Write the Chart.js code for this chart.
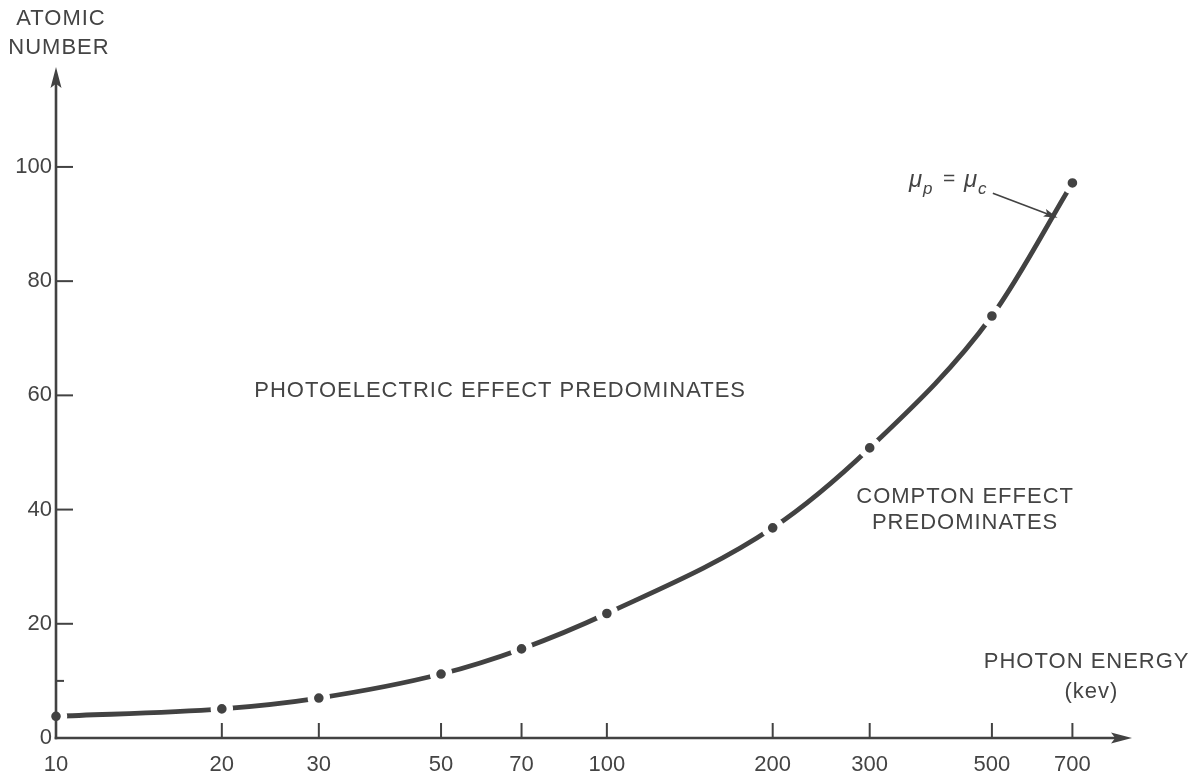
<!DOCTYPE html>
<html>
<head>
<meta charset="utf-8">
<script src="https://cdn.jsdelivr.net/npm/chart.js@4.4.1/dist/chart.umd.min.js"></script>
<style>
  html, body { margin: 0; padding: 0; background: #ffffff; }
  #wrap { width: 1196px; height: 778px; }
</style>
</head>
<body>
<div id="wrap"><canvas id="chart" width="1196" height="778"></canvas></div>
<script>
// Photon energy (keV) at which photoelectric and Compton attenuation are equal
const energyKeV    = [10, 20, 30, 50, 70, 100, 200, 300, 500, 700];
const atomicNumber = [3.8, 5.1, 7.0, 11.2, 15.6, 21.8, 36.8, 50.8, 73.9, 97.2];

// Axis tick values
const energyTicks = [10, 20, 30, 50, 70, 100, 200, 300, 500, 700];
const zTicks      = [0, 20, 40, 60, 80, 100];
const zMinorTicks = [10];

const INK  = '#424242';
const TEXT = '#444444';
const FONT = '"Liberation Sans", Arial, sans-serif';

function seg(ctx, x1, y1, x2, y2) {
  ctx.beginPath(); ctx.moveTo(x1, y1); ctx.lineTo(x2, y2); ctx.stroke();
}
function arrowHead(ctx, tx, ty, angle, len, half) {
  ctx.save();
  ctx.translate(tx, ty); ctx.rotate(angle);
  ctx.beginPath();
  ctx.moveTo(0, 0); ctx.lineTo(-len, -half); ctx.lineTo(-len * 0.8, 0); ctx.lineTo(-len, half);
  ctx.closePath(); ctx.fill();
  ctx.restore();
}

// Axis lines, arrows and inward tick marks drawn over the curve
const axisDecor = {
  id: 'axisDecor',
  afterDatasetsDraw(chart) {
    const { ctx, chartArea: a, scales: { x, y } } = chart;
    ctx.save();
    ctx.strokeStyle = INK; ctx.fillStyle = INK; ctx.lineCap = 'butt';

    ctx.lineWidth = 2.6;
    seg(ctx, a.left, a.bottom + 1.3, a.left, a.top + 14);
    seg(ctx, a.left - 1.3, a.bottom, a.right - 14, a.bottom);
    arrowHead(ctx, a.left, a.top, -Math.PI / 2, 21, 5.5);
    arrowHead(ctx, a.right, a.bottom, 0, 21, 5.5);

    ctx.lineWidth = 2;
    energyTicks.slice(1).forEach(v => {
      const px = x.getPixelForValue(v);
      seg(ctx, px, a.bottom, px, a.bottom - 15);
    });
    zTicks.slice(1).forEach(v => {
      const py = y.getPixelForValue(v);
      seg(ctx, a.left, py, a.left + 17, py);
    });
    zMinorTicks.forEach(v => {
      const py = y.getPixelForValue(v);
      seg(ctx, a.left, py, a.left + 8, py);
    });
    ctx.restore();
  },
  afterDraw(chart) {
    const { ctx, scales: { x, y } } = chart;
    ctx.save();
    ctx.fillStyle = TEXT;
    ctx.textBaseline = 'middle';
    ctx.textAlign = 'center';
    ctx.font = '22px ' + FONT;
    ctx.letterSpacing = '1px';

    // axis titles
    ctx.fillText('ATOMIC', 61, 19);
    ctx.fillText('NUMBER', 59, 48);
    ctx.fillText('PHOTON ENERGY', x.getPixelForValue(743), y.getPixelForValue(13.3));
    ctx.fillText('(kev)', x.getPixelForValue(758), y.getPixelForValue(8.1));

    // region labels
    ctx.fillText('PHOTOELECTRIC EFFECT PREDOMINATES', x.getPixelForValue(64), y.getPixelForValue(60.8));
    ctx.fillText('COMPTON EFFECT', x.getPixelForValue(447), y.getPixelForValue(42.2));
    ctx.fillText('PREDOMINATES', x.getPixelForValue(447), y.getPixelForValue(37.7));

    // mu_p = mu_c callout
    ctx.letterSpacing = '0px';
    ctx.textAlign = 'left';
    ctx.textBaseline = 'alphabetic';
    ctx.font = 'italic 24px ' + FONT;
    ctx.fillText('\u03BC', 909, 187);
    ctx.font = 'italic 17px ' + FONT;
    ctx.fillText('p', 923, 194);
    ctx.font = '21px ' + FONT;
    ctx.fillText('=', 943, 185);
    ctx.font = 'italic 24px ' + FONT;
    ctx.fillText('\u03BC', 964, 187);
    ctx.font = 'italic 17px ' + FONT;
    ctx.fillText('c', 978, 194);

    const tx0 = x.getPixelForValue(502), ty0 = y.getPixelForValue(95.4);
    const tx1 = x.getPixelForValue(658), ty1 = y.getPixelForValue(91.1);
    ctx.strokeStyle = INK; ctx.fillStyle = INK; ctx.lineWidth = 1.6;
    const ang = Math.atan2(ty1 - ty0, tx1 - tx0);
    seg(ctx, tx0, ty0, tx1 - 10 * Math.cos(ang), ty1 - 10 * Math.sin(ang));
    arrowHead(ctx, tx1, ty1, ang, 14, 4);
    ctx.restore();
  }
};

new Chart(document.getElementById('chart'), {
  type: 'line',
  data: {
    datasets: [{
      data: energyKeV.map((e, i) => ({ x: e, y: atomicNumber[i] })),
      borderColor: INK,
      borderWidth: 4.8,
      cubicInterpolationMode: 'monotone',
      pointRadius: 8,
      pointBorderWidth: 6.4,
      pointBackgroundColor: INK,
      pointBorderColor: '#ffffff',
      clip: false
    }]
  },
  options: {
    responsive: false,
    devicePixelRatio: 1,
    animation: false,
    events: [],
    layout: { padding: { top: 67, right: 64, left: 0, bottom: 0 } },
    plugins: { legend: { display: false }, tooltip: { enabled: false } },
    scales: {
      x: {
        type: 'logarithmic',
        min: 10,
        max: 898,
        grid: { display: false, drawTicks: false },
        border: { display: false },
        afterBuildTicks: s => { s.ticks = energyTicks.map(v => ({ value: v })); },
        afterFit: s => { s.height = 40; },
        ticks: {
          autoSkip: false, maxRotation: 0, padding: 14,
          color: TEXT, font: { family: FONT, size: 22 },
          callback: v => String(v)
        }
      },
      y: {
        type: 'linear',
        min: 0,
        max: 117.5,
        grid: { display: false, drawTicks: false },
        border: { display: false },
        afterBuildTicks: s => { s.ticks = zTicks.map(v => ({ value: v })); },
        afterFit: s => { s.width = 56; },
        ticks: {
          padding: 4,
          color: TEXT, font: { family: FONT, size: 22 },
          callback: v => String(v)
        }
      }
    }
  },
  plugins: [axisDecor]
});
</script>
</body>
</html>
